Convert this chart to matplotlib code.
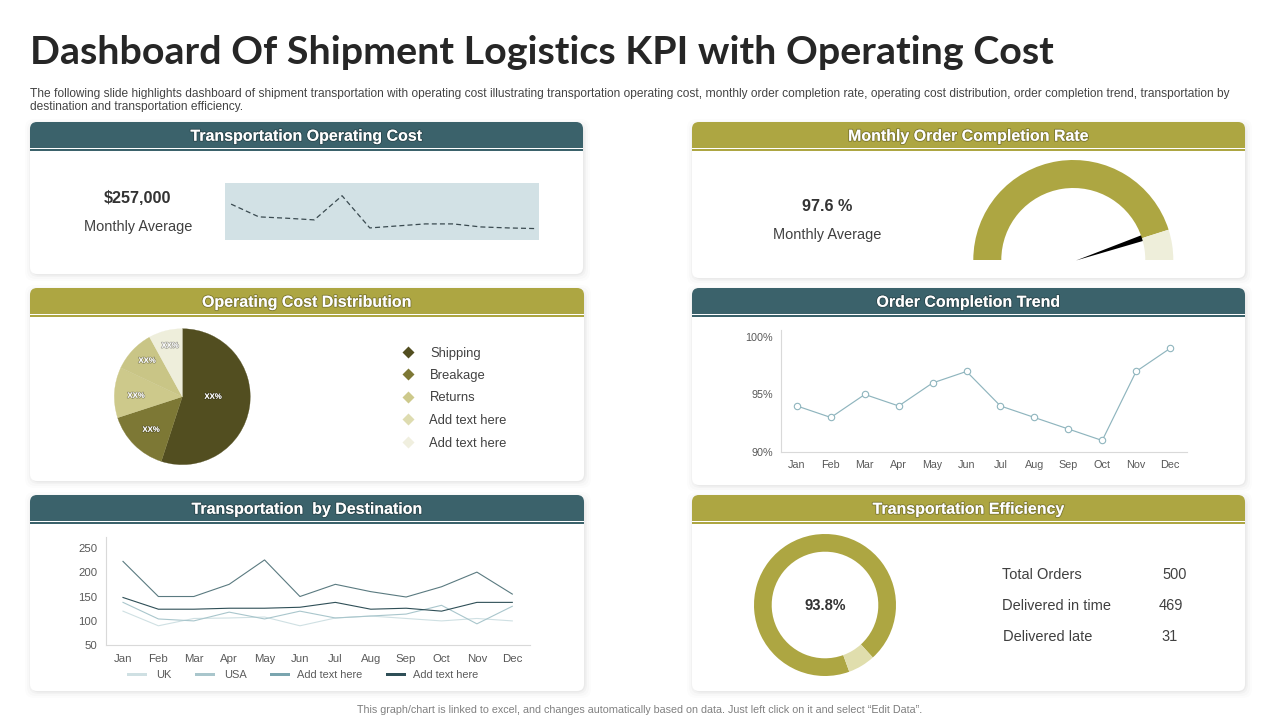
import matplotlib
matplotlib.use("Agg")
import matplotlib.pyplot as plt
from matplotlib.patches import FancyBboxPatch, Rectangle, Polygon
import matplotlib.patheffects as pe

plt.rcParams['font.family'] = ['Liberation Sans', 'DejaVu Sans']
plt.rcParams['text.hinting'] = 'native'

TEAL = '#3B626B'
OLIVE = '#ADA642'
TXT = '#404040'
TICK = '#595959'
W, H = 1280, 720

months = ['Jan','Feb','Mar','Apr','May','Jun','Jul','Aug','Sep','Oct','Nov','Dec']
cost_values = [310,272,268,263,335,239,245,251,251,242,239,237]
gauge_values = [90.2, 9.8, 100]
pie_values = [55, 15, 12, 10, 8]
pie_colors = ['#524E20','#7D7835','#CDC98B','#C9C586','#EEEEDB']
pie_legend = ['Shipping','Breakage','Returns','Add text here','Add text here']
legend_colors = ['#524E20','#7D7835','#CDC98B','#DEDCB0','#F0EFDF']
trend_values = [94,93,95,94,96,97,94,93,92,91,97,99]
trend_ticks = [90,95,100]
uk = [120,90,105,106,108,90,106,110,105,100,105,100]
usa = [138,104,100,118,104,120,106,110,114,132,94,130]
s3 = [222,150,150,175,225,150,175,160,149,170,200,155]
s4 = [148,124,124,126,126,128,138,124,126,120,138,138]
dest_ticks = [50,100,150,200,250]
eff_values = [469, 31]
eff_rows = [('Total Orders','500'),('Delivered in time','469'),('Delivered late','31')]

fig = plt.figure(figsize=(12.8,7.2), dpi=100, facecolor='white')
bg = fig.add_axes([0,0,1,1], zorder=0)
bg.set_xlim(0,W); bg.set_ylim(H,0); bg.axis('off')

def T(x,y,s,size=10.5,color=TXT,ha='center',weight='normal',**kw):
    # y is the pixel row of the middle of the capitals
    base = y + 0.36*size*100/72
    return fig.text(x/W,1-base/H,s,fontsize=size,color=color,ha=ha,va='baseline',weight=weight,zorder=5,**kw)

def px_axes(x0,y0,x1,y1,z=2):
    a = fig.add_axes([x0/W,1-y1/H,(x1-x0)/W,(y1-y0)/H],zorder=z)
    a.patch.set_alpha(0)
    return a

def panel(x0,x1,y0,y1,color,title):
    for g,al in [(7,.010),(5,.016),(3,.024),(1.5,.03)]:
        bg.add_patch(FancyBboxPatch((x0-g+2,y0+4-g),x1-x0+2*g-2,y1-y0+2*g-4,
            boxstyle='round,pad=0,rounding_size=9',fc='k',ec='none',alpha=al))
    bg.add_patch(FancyBboxPatch((x0,y0+4),x1-x0,y1-y0-4,boxstyle='round,pad=0,rounding_size=7',fc='white',ec='none'))
    bg.add_patch(FancyBboxPatch((x0,y0),x1-x0,24,boxstyle='round,pad=0,rounding_size=7',fc=color,ec='none'))
    bg.add_patch(Rectangle((x0,y0+12),x1-x0,13.5,fc=color,ec='none'))
    bg.add_patch(Rectangle((x0,y0+27),x1-x0,1.6,fc=color,ec='none'))
    t = T((x0+x1)/2,y0+13,title,size=11.5,color='white',weight='bold')
    t.set_path_effects([pe.withStroke(linewidth=1.4,foreground='#00000040')])

def month_axis(a,pad):
    a.tick_params(axis='x',pad=pad)
    for l in a.get_xticklabels():
        l.set_verticalalignment('baseline')

T(30,50,'Dashboard Of Shipment Logistics KPI with Operating Cost',size=28.4,color='#262626',ha='left',weight='bold',family='Lato')
T(30,93,'The following slide highlights dashboard of shipment transportation with operating cost illustrating transportation operating cost, monthly order completion rate, operating cost distribution, order completion trend, transportation by',size=8.68,ha='left')
T(30,106,'destination and transportation efficiency.',size=8.68,ha='left')
T(640,709.5,'This graph/chart is linked to excel, and changes automatically based on data. Just left click on it and select \u201cEdit Data\u201d.',size=7.78,color='#7F7F7F')

panel(30,583,122,274,TEAL,'Transportation Operating Cost')
panel(692,1245,122,278,OLIVE,'Monthly Order Completion Rate')
panel(30,584,288,481,OLIVE,'Operating Cost Distribution')
panel(692,1245,288,485,TEAL,'Order Completion Trend')
panel(30,584,495,691,TEAL,'Transportation  by Destination')
panel(692,1245,495,691,OLIVE,'Transportation Efficiency')

# Transportation operating cost
T(138,197,'$257,000',size=11.6,color='#333333',weight='bold')
T(138,225.5,'Monthly Average')
a = px_axes(225,183,539,240)
a.set_facecolor('#D2E1E5'); a.patch.set_alpha(1)
a.plot(range(12),cost_values,color='#3A4A50',lw=.9,ls=(0,(4,2.5)))
a.set_xlim(-.22,11.1); a.set_ylim(203,373)
a.set_xticks([]); a.set_yticks([])
for s in a.spines.values(): s.set_visible(False)

# Gauge
T(827,205,'97.6 %',size=11.6,color='#333333',weight='bold')
T(827,233.5,'Monthly Average')
a = px_axes(963,155,1183,265)
a.pie(gauge_values,radius=100,startangle=180,counterclock=False,
      colors=[OLIVE,'#EEEEDA','none'],wedgeprops=dict(width=28,ec='none'))
a.set_xlim(-110.3,109.7); a.set_ylim(-5,105); a.set_aspect('equal')
bg.add_patch(Polygon([(1076,260.5),(1142,235),(1144.5,240.5)],fc='black',ec='none'))

# Pie
a = px_axes(112,326,252,466)
wedges, _ = a.pie(pie_values,radius=68,startangle=90,counterclock=False,colors=pie_colors)
for w in wedges:
    w.set_edgecolor(w.get_facecolor()); w.set_linewidth(.2)
a.set_xlim(-70.3,69.7); a.set_ylim(-69.3,70.7); a.set_aspect('equal')
for (x,y) in [(213,396),(151,429),(136,395),(147,360),(170,345)]:
    t = T(x,y,'XX%',size=5.6,color='white',weight='bold')
    t.set_path_effects([pe.withStroke(linewidth=1,foreground='#00000050')])
for y,lab,c,lx in zip([352,374,396.5,419,442],pie_legend,legend_colors,[430,430,430,429,429]):
    bg.plot([408],[y],marker='D',ms=6,color=c,mec='none')
    T(lx,y,lab,size=9.4,ha='left')

# Trend
a = px_axes(781,330,1187,452)
a.plot(range(12),trend_values,color='#8FB5BE',lw=.85,marker='o',ms=4.6,mfc='white',mec='#8FB5BE',mew=.8)
a.set_xlim(-.47,11.5); a.set_ylim(90,100.6)
a.set_xticks(range(12),months); a.set_yticks(trend_ticks,[f'{v}%' for v in trend_ticks])
a.tick_params(length=0,labelsize=7.8,labelcolor=TICK,pad=6)
month_axis(a,11.5)
for s in ['top','right']: a.spines[s].set_visible(False)
for s in ['left','bottom']: a.spines[s].set_color('#D9D9D9'); a.spines[s].set_linewidth(.8)

# Destination
a = px_axes(106,537,530,645.3)
for vals,c in [(uk,'#CFE0E3'),(usa,'#A9C6CC'),(s3,'#5A7A80'),(s4,'#2F4F57')]:
    a.plot(range(12),vals,color=c,lw=.8)
a.set_xlim(-.48,11.5); a.set_ylim(50,272)
a.set_xticks(range(12),months); a.set_yticks(dest_ticks)
a.tick_params(length=0,labelsize=8.2,labelcolor=TICK,pad=6)
month_axis(a,12)
for s in ['top','right']: a.spines[s].set_visible(False)
for s in ['left','bottom']: a.spines[s].set_color('#D9D9D9'); a.spines[s].set_linewidth(.8)
for x0,lab,c,tx in [(127,'UK','#CFE0E3',156),(195,'USA','#A9C6CC',224),(270,'Add text here','#7AA5AF',297),(386,'Add text here','#2F4F57',413)]:
    bg.add_patch(Rectangle((x0,672.5),20,3.5,fc=c,ec='none'))
    T(tx,674,lab,size=7.9,ha='left',color=TICK)

# Efficiency donut
a = px_axes(750,530,900,680)
a.pie(eff_values,radius=71,startangle=-70,counterclock=False,colors=[OLIVE,'#E0DEAD'],
      wedgeprops=dict(width=17.7,ec='none'))
a.set_xlim(-75,75); a.set_ylim(-75,75); a.set_aspect('equal')
T(825,605,'93.8%',size=10.6,color='#333333',weight='bold')
for (lab,v),y,lx,vx in zip(eff_rows,[573.5,604.5,635.5],[1002,1002,1003],[1162,1159,1161]):
    T(lx,y,lab,size=10.5,ha='left')
    T(vx,y,v,size=10.5,ha='left')

fig.savefig('out.png',dpi=100)
